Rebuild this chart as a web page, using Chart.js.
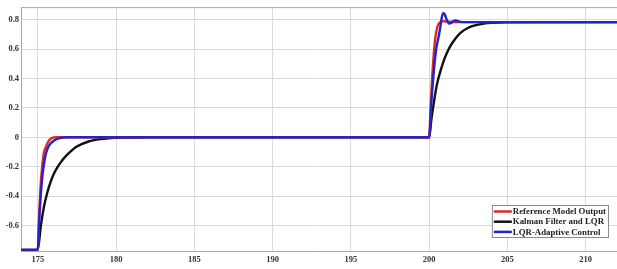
<!DOCTYPE html>
<html>
<head>
<meta charset="utf-8">
<script src="https://cdn.jsdelivr.net/npm/chart.js@4.4.0/dist/chart.umd.min.js"></script>
<style>
  body { margin: 0; background: #fff; }
  #wrap { width: 617px; height: 269px; }
</style>
</head>
<body>
<div id="wrap"><canvas id="resp_chart" width="617" height="269"></canvas></div>
<script>
// tick labels
var xTicks = [175, 180, 185, 190, 195, 200, 205, 210];
var yTicks = [-0.6, -0.4, -0.2, 0, 0.2, 0.4, 0.6, 0.8];

// Reference Model Output
var refX = [173.93, 175, 175.1, 175.2, 175.3, 175.4, 175.5, 175.6, 175.7, 175.8, 175.9, 176, 176.2,
            200, 200.1, 200.2, 200.3, 200.4, 200.5, 200.6, 200.75, 200.9, 201.2, 201.6, 212];
var refY = [-0.765, -0.765, -0.5, -0.3, -0.18, -0.1, -0.07, -0.045, -0.025, -0.012, -0.005, -0.001, 0,
            0, 0.22, 0.42, 0.57, 0.68, 0.74, 0.77, 0.785, 0.789, 0.786, 0.783, 0.783];

// Kalman Filter and LQR
var kalX = [173.93, 175, 175.2, 175.4, 175.6, 175.8, 176, 176.25, 176.5, 176.75, 177, 177.25, 177.5, 177.8,
            178.2, 178.6, 179, 179.5, 180, 181, 182,
            200, 200.15, 200.3, 200.5, 200.75, 201, 201.3, 201.6, 202, 202.5, 203, 203.5, 204, 205, 212];
var kalY = [-0.765, -0.765, -0.6, -0.47, -0.38, -0.31, -0.255, -0.205, -0.165, -0.133, -0.106, -0.082, -0.063, -0.046,
            -0.03, -0.019, -0.012, -0.006, -0.003, -0.001, 0,
            0, 0.127, 0.235, 0.36, 0.46, 0.54, 0.61, 0.66, 0.71, 0.745, 0.763, 0.773, 0.778, 0.782, 0.783];

// LQR-Adaptive Control
var adpX = [173.93, 175, 175.1, 175.2, 175.3, 175.4, 175.5, 175.6, 175.7, 175.8, 176, 176.2, 176.4, 176.6, 177,
            200, 200.15, 200.3, 200.45, 200.6, 200.7, 200.8, 200.9, 201, 201.1, 201.2, 201.3, 201.4, 201.55,
            201.7, 201.85, 202, 202.3, 212];
var adpY = [-0.765, -0.765, -0.55, -0.38, -0.26, -0.18, -0.12, -0.085, -0.06, -0.045, -0.025, -0.012, -0.005, -0.001, 0,
            0, 0.25, 0.45, 0.6, 0.68, 0.74, 0.81, 0.843, 0.835, 0.805, 0.782, 0.773, 0.777, 0.79,
            0.795, 0.79, 0.785, 0.783, 0.783];

function toPoints(xs, ys) {
    var pts = [];
    for (let i = 0; i < xs.length; i++) {
        pts.push({ x: xs[i], y: ys[i] });
    }
    return pts;
}

var tickFont = { family: "'Liberation Serif', 'DejaVu Serif', serif", size: 8.5, weight: 'bold' };

// frame top line + legend box inside the plot
var framePlugin = {
    id: 'frame',
    afterDraw: function (chart) {
        var ctx = chart.ctx;
        var a = chart.chartArea;
        ctx.save();
        ctx.strokeStyle = '#a8a8a8';
        ctx.lineWidth = 1;
        ctx.beginPath();
        ctx.moveTo(a.left, a.top + 0.5);
        ctx.lineTo(a.right, a.top + 0.5);
        ctx.stroke();

        var sets = chart.data.datasets;
        ctx.font = "bold 8.8px 'Liberation Serif', serif";
        var w = 0;
        sets.forEach(function (d) { w = Math.max(w, ctx.measureText(d.label).width); });
        var boxW = w + 23;
        var boxH = 32;
        var bx = 608 - boxW;
        var by = 205;
        ctx.fillStyle = '#fff';
        ctx.fillRect(bx, by, boxW, boxH);
        ctx.strokeStyle = '#8a8a8a';
        ctx.strokeRect(bx + 0.5, by + 0.5, boxW, boxH);
        sets.forEach(function (d, i) {
            var ly = by + 6.5 + i * 10.2;
            ctx.strokeStyle = d.borderColor;
            ctx.lineWidth = 2.5;
            ctx.beginPath();
            ctx.moveTo(bx + 2, ly);
            ctx.lineTo(bx + 20, ly);
            ctx.stroke();
            ctx.fillStyle = '#222';
            ctx.textAlign = 'left';
            ctx.textBaseline = 'middle';
            ctx.fillText(d.label, bx + 21, ly + 0.5);
        });
        ctx.restore();
    }
};

var chart = new Chart(document.getElementById('resp_chart').getContext('2d'), {
    type: 'line',
    data: {
        datasets: [{
            label: 'Reference Model Output',
            data: toPoints(refX, refY),
            borderColor: '#e0282c',
            borderWidth: 2.4,
            order: 2
        }, {
            label: 'Kalman Filter and LQR',
            data: toPoints(kalX, kalY),
            borderColor: '#111111',
            borderWidth: 2.4,
            order: 3
        }, {
            label: 'LQR-Adaptive Control',
            data: toPoints(adpX, adpY),
            borderColor: '#2323c8',
            borderWidth: 2.4,
            order: 1
        }]
    },
    options: {
        responsive: false,
        animation: false,
        layout: { padding: { top: 6, right: 0, left: 0, bottom: 0 } },
        elements: {
            point: { radius: 0 },
            line: { cubicInterpolationMode: 'monotone', fill: false }
        },
        plugins: {
            legend: { display: false },
            tooltip: { enabled: false }
        },
        scales: {
            x: {
                type: 'linear',
                min: 173.93,
                max: 212,
                afterBuildTicks: function (axis) {
                    axis.ticks = xTicks.map(function (v) { return { value: v }; });
                },
                afterFit: function (axis) { axis.height = 17.5; },
                grid: { color: '#dadada', drawTicks: false },
                border: { color: '#a8a8a8' },
                ticks: { font: tickFont, color: '#333', padding: 3, maxRotation: 0 }
            },
            y: {
                min: -0.776,
                max: 0.885,
                afterBuildTicks: function (axis) {
                    axis.ticks = yTicks.map(function (v) { return { value: v }; });
                },
                afterFit: function (axis) { axis.width = 21; },
                grid: { color: '#dadada', drawTicks: false },
                border: { color: '#a8a8a8' },
                ticks: { font: tickFont, color: '#333', padding: 2 }
            }
        }
    },
    plugins: [framePlugin]
});
</script>
</body>
</html>
